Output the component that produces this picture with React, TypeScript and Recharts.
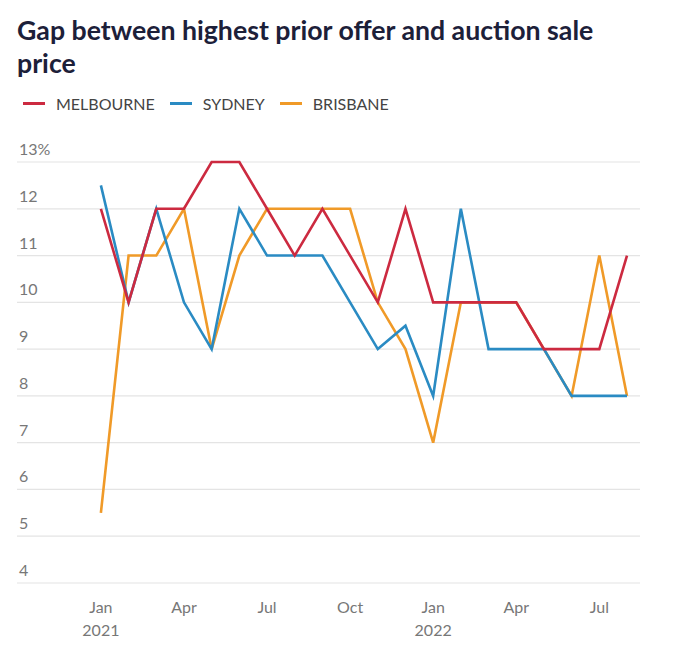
import { LineChart, Line, XAxis, YAxis, CartesianGrid } from "recharts"

const months = [
  "Jan 2021", "Feb 2021", "Mar 2021", "Apr 2021", "May 2021", "Jun 2021", "Jul 2021", "Aug 2021", "Sep 2021", "Oct 2021",
  "Nov 2021", "Dec 2021", "Jan 2022", "Feb 2022", "Mar 2022", "Apr 2022", "May 2022", "Jun 2022", "Jul 2022", "Aug 2022",
]
const melbourne = [12, 10, 12, 12, 13, 13, 12, 11, 12, 11, 10, 12, 10, 10, 10, 10, 9, 9, 9, 11]
const sydney = [12.5, 10, 12, 10, 9, 12, 11, 11, 11, 10, 9, 9.5, 8, 12, 9, 9, 9, 8, 8, 8]
const brisbane = [5.5, 11, 11, 12, 9, 11, 12, 12, 12, 12, 10, 9, 7, 10, 10, 10, 9, 8, 11, 8]

const xTicks = [0, 3, 6, 9, 12, 15, 18]
const xTickLabels = ["Jan", "Apr", "Jul", "Oct", "Jan", "Apr", "Jul"]
const xTickYears = ["2021", "", "", "", "2022", "", ""]
const yTicks = [4, 5, 6, 7, 8, 9, 10, 11, 12, 13]

const series = [
  { key: "brisbane", name: "BRISBANE", color: "#f09a28" },
  { key: "sydney", name: "SYDNEY", color: "#2a8bc3" },
  { key: "melbourne", name: "MELBOURNE", color: "#cc2a40" },
]
const legendOrder = ["melbourne", "sydney", "brisbane"]

const data = months.map((m, i) => ({
  x: i,
  month: m,
  melbourne: melbourne[i],
  sydney: sydney[i],
  brisbane: brisbane[i],
}))

const font = "Lato, 'Noto Sans', sans-serif"

function YTick({ y, payload }: any) {
  return (
    <text x={19} y={y - 7} fill="#777" fontSize={16} fontFamily={font} textAnchor="start">
      {payload.value === 13 ? "13%" : payload.value}
    </text>
  )
}

function XTick({ x, y, payload }: any) {
  const idx = xTicks.indexOf(payload.value)
  return (
    <g>
      <text x={x} y={y + 22} fill="#777" fontSize={16} fontFamily={font} textAnchor="middle">
        {xTickLabels[idx]}
      </text>
      {xTickYears[idx] && (
        <text x={x} y={y + 45} fill="#777" fontSize={16} fontFamily={font} textAnchor="middle">
          {xTickYears[idx]}
        </text>
      )}
    </g>
  )
}

export default function App() {
  return (
    <div style={{ position: "absolute", left: 0, top: 0, width: 688, height: 666, background: "#fff", fontFamily: font }}>
      <div
        style={{
          position: "absolute",
          left: 17,
          top: 14,
          width: 600,
          fontSize: 26.7,
          lineHeight: "33px",
          fontWeight: 700,
          color: "#1c2039",
        }}
      >
        Gap between highest prior offer and auction sale price
      </div>
      <div style={{ position: "absolute", left: 23, top: 94, display: "flex", alignItems: "center", fontSize: 16, color: "#444" }}>
        {legendOrder.map((k) => {
          const s = series.find((d) => d.key === k)!
          return (
            <div key={k} style={{ display: "flex", alignItems: "center", marginRight: 15 }}>
              <span style={{ display: "inline-block", width: 22, height: 3, background: s.color, marginRight: 11 }} />
              <span>{s.name}</span>
            </div>
          )
        })}
      </div>
      <div style={{ position: "absolute", left: 0, top: 0 }}>
        <LineChart width={688} height={666} data={data} margin={{ top: 162, left: 16, right: 48, bottom: 0 }}>
          <CartesianGrid vertical={false} stroke="#e4e4e4" strokeWidth={1.2} />
          <XAxis
            dataKey="x"
            type="number"
            domain={[-3.03, 19.47]}
            ticks={xTicks}
            axisLine={false}
            tickLine={false}
            height={83}
            tick={<XTick />}
            interval={0}
          />
          <YAxis
            type="number"
            domain={[4, 13]}
            ticks={yTicks}
            width={1}
            axisLine={false}
            tickLine={false}
            tick={<YTick />}
            interval={0}
          />
          {series.map((s) => (
            <Line
              key={s.key}
              type="linear"
              dataKey={s.key}
              stroke={s.color}
              strokeWidth={2.6}
              dot={false}
              activeDot={false}
              isAnimationActive={false}
            />
          ))}
        </LineChart>
      </div>
    </div>
  )
}
